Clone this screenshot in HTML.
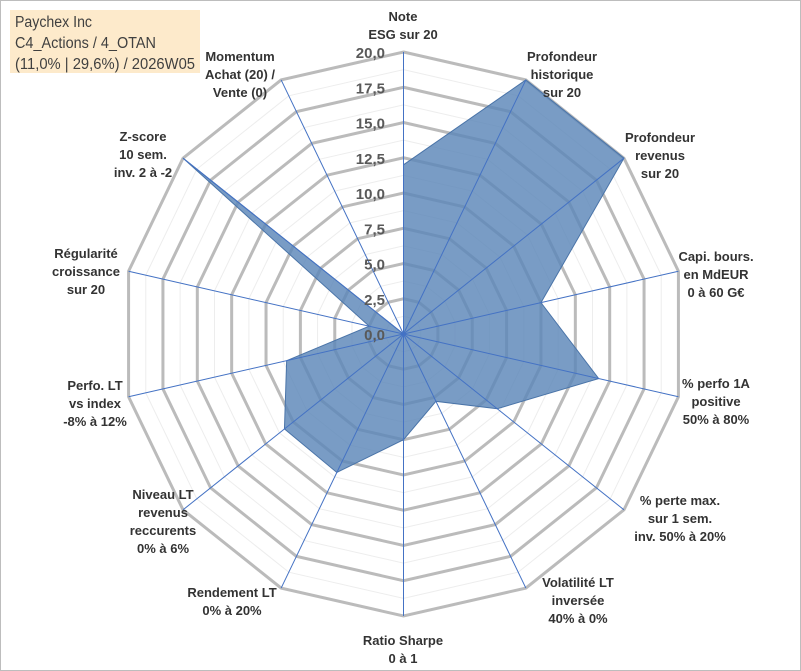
<!DOCTYPE html>
<html><head><meta charset="utf-8"><style>
html,body{margin:0;padding:0;background:#fff}
svg{display:block;font-family:"Liberation Sans",sans-serif}
</style></head><body>
<svg id="chart" width="801" height="671" viewBox="0 0 801 671" xmlns="http://www.w3.org/2000/svg">
<rect x="0.5" y="0.5" width="800" height="670" fill="#fff" stroke="#bdbdbd"/>
<rect x="10" y="10" width="190" height="63" fill="#fdeacb"/>
<g fill="#404040" font-size="15.5">
<text x="15" y="27" textLength="77" lengthAdjust="spacingAndGlyphs">Paychex Inc</text>
<text x="15" y="48" textLength="141" lengthAdjust="spacingAndGlyphs">C4_Actions / 4_OTAN</text>
<text x="15" y="69" textLength="180" lengthAdjust="spacingAndGlyphs">(11,0% | 29,6%) / 2026W05</text>
</g>
<g id="grid"></g><g id="series"></g><g id="spokes"></g><g id="ticks"></g><g id="labels"></g>
</svg>
<script>
const categories = [
 ["Note","ESG sur 20"],["Profondeur","historique","sur 20"],["Profondeur","revenus","sur 20"],
 ["Capi. bours.","en MdEUR","0 à 60 G€"],["% perfo 1A","positive","50% à 80%"],
 ["% perte max.","sur 1 sem.","inv. 50% à 20%"],["Volatilité LT","inversée","40% à 0%"],
 ["Ratio Sharpe","0 à 1"],["Rendement LT","0% à 20%"],["Niveau LT","revenus","reccurents","0% à 6%"],
 ["Perfo. LT","vs index","-8% à 12%"],["Régularité","croissance","sur 20"],
 ["Z-score","10 sem.","inv. 2 à -2"],["Momentum","Achat (20) /","Vente (0)"]
];
const values = [12, 20, 20, 10, 14.2, 8.5, 5.3, 7.5, 10.9, 10.8, 8.5, 2.5, 20, 0];
const tickLabels = ["0,0","2,5","5,0","7,5","10,0","12,5","15,0","17,5","20,0"];
const axisMax = 20;
const labelPos = [[403,16],[562,56],[660,137],[716,256],[716,383],[680,500],[578,582],[403,640],[232,592],[163,494],[95,385],[86,253],[143,136],[240,56]];

const NS="http://www.w3.org/2000/svg";
const cx=403.5, cy=334, R=282, n=categories.length;
const rScale=v=>v/axisMax*R;
const pt=(i,v)=>{const a=i*2*Math.PI/n;return [cx+rScale(v)*Math.sin(a), cy-rScale(v)*Math.cos(a)];};
function mk(tag,attrs,parent){const e=document.createElementNS(NS,tag);for(const k in attrs)e.setAttribute(k,attrs[k]);parent.appendChild(e);return e;}
const grid=document.getElementById('grid');
for(let s=1;s<=16;s++){
 const v=s*axisMax/16;
 const p=categories.map((c,i)=>pt(i,v).join(',')).join(' ');
 const major=s%2===0;
 const g=mk('polygon',{points:p,fill:'none',stroke:major?'#bbbbbb':'#ededed','stroke-width':major?3:1},grid);
 
 
}
const ser=document.getElementById('series');
const poly=mk('polygon',{points:values.map((v,i)=>pt(i,v).join(',')).join(' '),fill:'#5b86b8','fill-opacity':0.82,stroke:'#4a74a8','stroke-width':1},ser);


const sp=document.getElementById('spokes');
categories.forEach((c,i)=>{const [x,y]=pt(i,axisMax);
 const l=mk('line',{x1:cx,y1:cy,x2:x,y2:y,stroke:'#4472c4','stroke-width':1},sp);
 
 
});
const tk=document.getElementById('ticks');
tickLabels.forEach((t,k)=>{
 const e=mk('text',{x:385,y:cy-rScale(k*axisMax/8)+6,'text-anchor':'end','font-size':15,'font-weight':'bold',fill:'#595959'},tk);
 e.textContent=t;
 
 
});
const lb=document.getElementById('labels');
categories.forEach((lines,i)=>{
 const [x,y]=labelPos[i];
 const t=mk('text',{'text-anchor':'middle','font-size':13,'font-weight':'bold',fill:'#333'},lb);
 
 
 lines.forEach((s,j)=>{const ts=mk('tspan',{x:x,y:y+j*18+5},t);ts.textContent=s;});
});
</script>
</body></html>
